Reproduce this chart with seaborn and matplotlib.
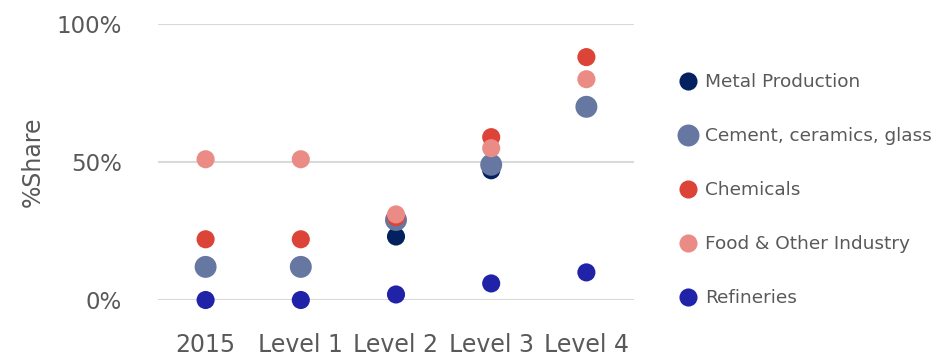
import matplotlib
matplotlib.use("Agg")
import matplotlib.pyplot as plt
from matplotlib.lines import Line2D
import seaborn as sns
import pandas as pd

# Share of industrial heat demand by sector across scenarios
levels = ["2015", "Level 1", "Level 2", "Level 3", "Level 4"]
metal_production = [12, 12, 23, 47, 70]
cement_ceramics_glass = [12, 12, 29, 49, 70]
chemicals = [22, 22, 30, 59, 88]
food_other = [51, 51, 31, 55, 80]
refineries = [0, 0, 2, 6, 10]

series_names = ["Metal Production", "Cement, ceramics, glass", "Chemicals",
                "Food & Other Industry", "Refineries"]
series_values = [metal_production, cement_ceramics_glass, chemicals,
                 food_other, refineries]
colors = ["#03215f", "#6677a2", "#db4437", "#ea8c85", "#2022a8"]
sizes = [170, 250, 170, 170, 170]

rows = []
for name, vals in zip(series_names, series_values):
    for lvl, v in zip(levels, vals):
        rows.append({"level": lvl, "share": v, "series": name})
df = pd.DataFrame(rows)

sns.set_theme(style="white")
plt.rcParams["font.family"] = ["DejaVu Sans"]
text_color = "#595959"

fig = plt.figure(figsize=(9.53, 3.58), dpi=100)
ax = fig.add_axes([158 / 953, (358 - 300) / 358, 476 / 953, 276 / 358])

sns.scatterplot(data=df, x="level", y="share", hue="series",
                palette=dict(zip(series_names, colors)),
                size="series", sizes=dict(zip(series_names, sizes)),
                linewidth=0, alpha=1, legend=False, ax=ax, clip_on=False,
                zorder=3)

ax.set_xlim(-0.5, 4.5)
ax.set_ylim(0, 100)
ax.set_yticks([0, 50, 100])
ax.set_yticklabels(["0%", "50%", "100%"])
ax.yaxis.grid(True, color="#d9d9d9", linewidth=1.5)
ax.set_axisbelow(True)
for s in ax.spines.values():
    s.set_visible(False)
ax.tick_params(axis="both", length=0, labelsize=17, colors=text_color)
ax.tick_params(axis="y", labelsize=16.5)
ax.tick_params(axis="x", pad=24)
ax.tick_params(axis="y", pad=26)
ax.set_xlabel("")
ax.set_ylabel("")
fig.text(32.5 / 953, 1 - 162 / 358, "%Share", rotation=90, ha="center",
         va="center", fontsize=17, color=text_color)

handles = [Line2D([0], [0], marker="o", linestyle="", markerfacecolor=c,
                  markeredgewidth=0, markersize=(s ** 0.5))
           for c, s in zip(colors, sizes)]
fig.legend(handles, series_names, loc="upper left",
           bbox_to_anchor=(670 / 953, 1 - 66 / 358), frameon=False,
           fontsize=13.3, labelcolor=text_color, handletextpad=0.3,
           labelspacing=1.95, handlelength=1.2, borderaxespad=0)

fig.savefig("out.png", dpi=100)
